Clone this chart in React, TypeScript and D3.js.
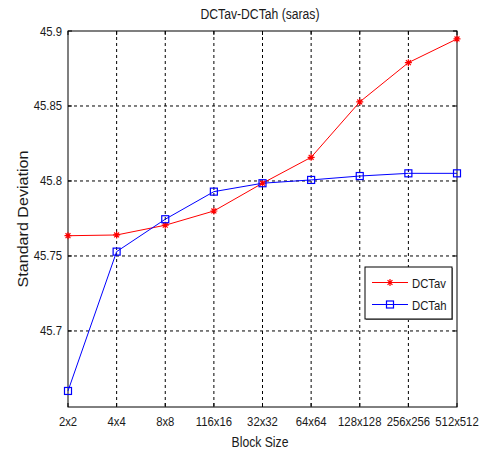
import React from "react";
import * as d3 from "d3";

const categories = ["2x2", "4x4", "8x8", "116x16", "32x32", "64x64", "128x128", "256x256", "512x512"];
const dctAv = [45.7635, 45.764, 45.7705, 45.78, 45.7985, 45.8158, 45.8527, 45.8789, 45.8947];
const dctAh = [45.66, 45.7529, 45.7745, 45.7929, 45.7985, 45.8007, 45.8033, 45.8051, 45.8051];
const yTicks = [45.7, 45.75, 45.8, 45.85, 45.9];
const yTickLabels = ["45.7", "45.75", "45.8", "45.85", "45.9"];

const W = 487, H = 453;
const L = 68, R = 457, T = 31, B = 407;
const FONT = "'Liberation Sans', Arial, sans-serif";
const SX = 0.87;

function Txt(props: { x: number; y: number; size: number; anchor?: string; rotate?: boolean; children: React.ReactNode }) {
  const { x, y, size, anchor = "start", rotate = false, children } = props;
  const tr = rotate
    ? `translate(${x},${y}) rotate(-90) scale(${1 / SX},1)`
    : `translate(${x},${y}) scale(${SX},1)`;
  return (
    <text transform={tr} textAnchor={anchor as any} fontFamily={FONT} fontSize={size} fill="#1a1a1a">
      {children}
    </text>
  );
}

export default function App() {
  const x = d3.scalePoint<string>().domain(categories).range([L, R]);
  const y = d3.scaleLinear().domain([45.6493, 45.9]).range([B, T]);
  const line = d3.line<number>().x((_, i) => x(categories[i])!).y((d) => y(d));

  const star = (cx: number, cy: number, k: string, color: string) => {
    const s = 3.5;
    const d = `M${cx - s},${cy}L${cx + s},${cy}M${cx},${cy - s}L${cx},${cy + s}M${cx - s * 0.7},${cy - s * 0.7}L${cx + s * 0.7},${cy + s * 0.7}M${cx - s * 0.7},${cy + s * 0.7}L${cx + s * 0.7},${cy - s * 0.7}`;
    return <path key={k} d={d} stroke={color} strokeWidth={1.2} fill="none" />;
  };
  const square = (cx: number, cy: number, k: string, color: string) => (
    <rect key={k} x={cx - 3.5} y={cy - 3.5} width={7} height={7} fill="none" stroke={color} strokeWidth={1.2} />
  );

  return (
    <svg width={W} height={H} style={{ position: "absolute", left: 0, top: 0, background: "#fff" }}>
      <rect x={0} y={0} width={W} height={H} fill="#fff" />
      {categories.slice(1, -1).map((c) => (
        <line key={"gx" + c} x1={x(c)} x2={x(c)} y1={T} y2={B} stroke="#000" strokeWidth={1} strokeDasharray="3,3" />
      ))}
      {yTicks.slice(0, -1).map((t) => (
        <line key={"gy" + t} x1={L} x2={R} y1={y(t)} y2={y(t)} stroke="#000" strokeWidth={1} strokeDasharray="3,3" />
      ))}
      <rect x={L} y={T} width={R - L} height={B - T} fill="none" stroke="#000" strokeWidth={1} />
      {categories.map((c) => (
        <g key={"tx" + c}>
          <line x1={x(c)} x2={x(c)} y1={B} y2={B - 4} stroke="#000" />
          <line x1={x(c)} x2={x(c)} y1={T} y2={T + 4} stroke="#000" />
          <Txt x={x(c)!} y={426} size={13} anchor="middle">{c}</Txt>
        </g>
      ))}
      {yTicks.map((t, i) => (
        <g key={"ty" + t}>
          <line x1={L} x2={L + 4} y1={y(t)} y2={y(t)} stroke="#000" />
          <line x1={R} x2={R - 4} y1={y(t)} y2={y(t)} stroke="#000" />
          <Txt x={62} y={y(t) + 4.5} size={13} anchor="end">{yTickLabels[i]}</Txt>
        </g>
      ))}
      <path d={line(dctAv)!} fill="none" stroke="#ff0000" strokeWidth={1} />
      <path d={line(dctAh)!} fill="none" stroke="#0000ff" strokeWidth={1} />
      {dctAv.map((v, i) => star(x(categories[i])!, y(v), "s" + i, "#ff0000"))}
      {dctAh.map((v, i) => square(x(categories[i])!, y(v), "q" + i, "#0000ff"))}
      <rect x={366} y={268} width={87} height={52} fill="#888" />
      <rect x={365} y={267} width={87} height={52} fill="#fff" stroke="#000" strokeWidth={1} />
      <line x1={372} x2={408} y1={282.5} y2={282.5} stroke="#ff0000" />
      {star(390, 282.5, "ls", "#ff0000")}
      <Txt x={412} y={287.5} size={13}>DCTav</Txt>
      <line x1={372} x2={408} y1={304.5} y2={304.5} stroke="#0000ff" />
      {square(390, 304.5, "lq", "#0000ff")}
      <Txt x={412} y={309.5} size={13}>DCTah</Txt>
      <Txt x={260} y={19} size={14} anchor="middle">DCTav-DCTah (saras)</Txt>
      <Txt x={260} y={447} size={14} anchor="middle">Block Size</Txt>
      <Txt x={28} y={(T + B) / 2} size={14} anchor="middle" rotate>Standard Deviation</Txt>
    </svg>
  );
}
